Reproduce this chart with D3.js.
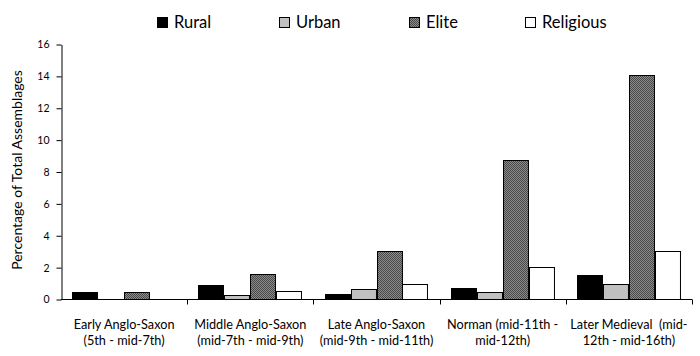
<!DOCTYPE html>
<html><head><meta charset="utf-8">
<script src="https://cdn.jsdelivr.net/npm/d3@7"></script>
<style>body{margin:0;background:#fff}svg{display:block;font-family:Lato,"Open Sans",sans-serif}</style>
</head><body><div id="chart"></div>
<script>
const categories = ["Early Anglo-Saxon|(5th - mid-7th)","Middle Anglo-Saxon|(mid-7th - mid-9th)","Late Anglo-Saxon|(mid-9th - mid-11th)","Norman (mid-11th -|mid-12th)","Later Medieval  (mid-|12th - mid-16th)"];
const seriesNames = ["Rural","Urban","Elite","Religious"];
const rural = [0.42, 0.85, 0.3, 0.72, 1.5];
const urban = [0, 0.22, 0.6, 0.42, 0.93];
const elite = [0.45, 1.57, 3.02, 8.75, 14.05];
const religious = [0, 0.52, 0.91, 2.0, 3.02];
const yTicks = [0,2,4,6,8,10,12,14,16];

const seriesValues = [rural, urban, elite, religious];
const W=700,H=356;
const svg=d3.select("#chart").append("svg").attr("width",W).attr("height",H);
const defs=svg.append("defs");
const pat=defs.append("pattern").attr("id","chk").attr("patternUnits","userSpaceOnUse").attr("width",2).attr("height",2);
pat.append("rect").attr("width",2).attr("height",2).attr("fill","#8a8a8a");
pat.append("rect").attr("width",1).attr("height",1).attr("fill","#4a4a4a");
pat.append("rect").attr("x",1).attr("y",1).attr("width",1).attr("height",1).attr("fill","#4a4a4a");
const fills={Rural:"#000",Urban:"#c0c0c0",Elite:"url(#chk)",Religious:"#fff"};

const x0=d3.scaleBand().domain(categories).range([61,692]).padding(0);
const x1=d3.scaleBand().domain(seriesNames).range([0,x0.bandwidth()]).paddingInner(0).paddingOuter(0.43);
const y=d3.scaleLinear().domain([0,16]).range([299,44]);

// bars
const data=[];
categories.forEach((c,i)=>seriesNames.forEach((s,j)=>data.push({c,s,v:seriesValues[j][i]})));
svg.append("g").selectAll("rect").data(data.filter(d=>d.v>0)).join("rect")
  .attr("x",d=>Math.round(x0(d.c)+x1(d.s))+0.5)
  .attr("y",d=>Math.round(y(d.v))+0.5)
  .attr("width",x1.bandwidth()-1)
  .attr("height",d=>Math.round(y(0))-Math.round(y(d.v)))
  .attr("fill",d=>fills[d.s]).attr("stroke","#000").attr("stroke-width",1);

// y axis
const ya=svg.append("g").attr("transform","translate(61.5,0.5)")
  .call(d3.axisLeft(y).tickValues(yTicks).tickSize(5).tickPadding(7).tickSizeOuter(0));
ya.select(".domain").attr("stroke","#000");
ya.selectAll(".tick line").attr("stroke","#000");
ya.selectAll("text").attr("font-size","10.5px").attr("fill","#000").attr("font-family","Lato");

// x axis
const xa=svg.append("g").attr("transform","translate(0,299.5)");
xa.append("line").attr("x1",61).attr("x2",692).attr("stroke","#000");
const bounds=categories.map(c=>x0(c)+x0.bandwidth());
xa.selectAll("line.t").data(bounds).join("line").attr("class","t")
  .attr("x1",d=>Math.round(d)+0.5).attr("x2",d=>Math.round(d)+0.5).attr("y1",0).attr("y2",5).attr("stroke","#000");
const lbl=svg.append("g").selectAll("text").data(categories).join("text")
  .attr("x",d=>x0(d)+x0.bandwidth()/2).attr("y",329)
  .attr("text-anchor","middle").attr("font-size","12.7px").attr("fill","#000");
lbl.each(function(d){
  const parts=d.split("|");
  const t=d3.select(this);
  parts.forEach((p,k)=>t.append("tspan").attr("x",x0(d)+x0.bandwidth()/2).attr("dy",k?15.5:0).attr("xml:space","preserve").text(p));
});

// y title
svg.append("text").attr("transform","translate(22,170) rotate(-90)").attr("text-anchor","middle")
  .attr("font-size","14px").attr("fill","#000").text("Percentage of Total Assemblages");

// legend
const legX=[157,279,409,525];
const lg=svg.append("g").selectAll("g").data(seriesNames).join("g").attr("transform",(d,i)=>`translate(${legX[i]},17)`);
lg.append("rect").attr("x",0.5).attr("y",0.5).attr("width",10).attr("height",10).attr("fill",d=>fills[d]).attr("stroke","#000");
lg.append("text").attr("x",17).attr("y",11).attr("font-size","16.5px").attr("fill","#000").text(d=>d);
</script></body></html>
